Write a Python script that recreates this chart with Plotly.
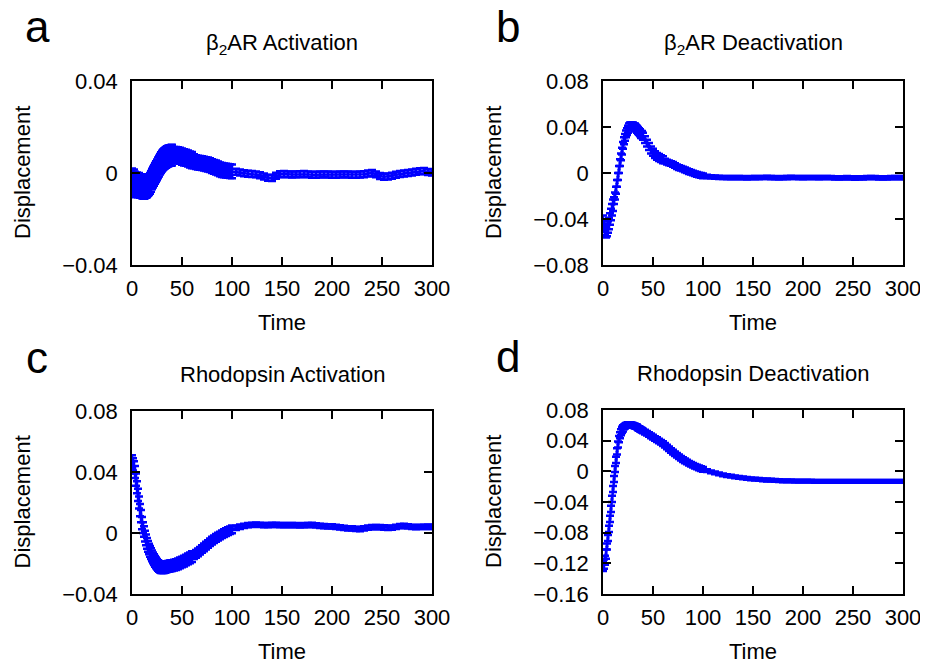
import plotly.graph_objects as go

# time grid: every step to 40, every 2 to 100, every 4 to 300
time = list(range(0, 41)) + list(range(42, 101, 2)) + list(range(104, 301, 4))

b2ar_act = [
    -0.0030, -0.0045, -0.0035, -0.0045, -0.0055, -0.0048, -0.0055, -0.0050, -0.0058, -0.0056,
    -0.0060, -0.0061, -0.0062, -0.0060, -0.0058, -0.0055, -0.0055, -0.0051, -0.0045, -0.0036,
    -0.0026, -0.0018, -0.0010, -0.0002, 0.0006, 0.0014, 0.0022, 0.0030, 0.0038, 0.0045,
    0.0052, 0.0057, 0.0061, 0.0065, 0.0068, 0.0071, 0.0073, 0.0075, 0.0076, 0.0077,
    0.0078,
    0.0078, 0.0078, 0.0077, 0.0075, 0.0071, 0.0068, 0.0066, 0.0063, 0.0059, 0.0056,
    0.0051, 0.0047, 0.0045, 0.0044, 0.0043, 0.0041, 0.0039, 0.0037, 0.0034, 0.0030,
    0.0027, 0.0024, 0.0020, 0.0016, 0.0013, 0.0011, 0.0010, 0.0009, 0.0008, 0.0007,
    0.0005, 0.0002, -0.0001, -0.0003, -0.0004, -0.0006, -0.0010, -0.0015, -0.0021, -0.0022,
    -0.0012, -0.0005, -0.0004, -0.0006, -0.0007, -0.0006, -0.0005, -0.0004, -0.0006, -0.0008,
    -0.0008, -0.0007, -0.0006, -0.0007, -0.0008, -0.0008, -0.0007, -0.0006, -0.0007, -0.0008,
    -0.0008, -0.0007, -0.0005, -0.0002, 0.0000, -0.0006, -0.0013, -0.0016, -0.0015, -0.0012,
    -0.0008, -0.0004, -0.0002, 0.0000, 0.0002, 0.0005, 0.0008, 0.0009, 0.0004, 0.0002,
]
b2ar_act_err = [0.005] * 16 + [0.0045] * 25 + [0.0035] * 10 + [0.003] * 20 + [0.0013] * 50

b2ar_deact = [
    -0.042, -0.046, -0.049, -0.051, -0.050, -0.047, -0.044, -0.040, -0.036, -0.032,
    -0.028, -0.024, -0.020, -0.015, -0.009, -0.003, 0.003, 0.009, 0.014, 0.019,
    0.024, 0.028, 0.031, 0.034, 0.036, 0.038, 0.040, 0.041, 0.041, 0.041,
    0.041, 0.040, 0.040, 0.039, 0.038, 0.037, 0.036, 0.035, 0.0335, 0.0335,
    0.032,
    0.029, 0.026, 0.023, 0.020, 0.018, 0.016, 0.0145, 0.0135, 0.0125, 0.0115,
    0.0105, 0.0095, 0.0088, 0.0082, 0.0075, 0.0065, 0.0055, 0.0047, 0.0041, 0.0035,
    0.0027, 0.0019, 0.0012, 0.0006, 0.0000, -0.0006, -0.0012, -0.0017, -0.0021, -0.0025,
    -0.0029, -0.0033, -0.0036, -0.0038, -0.0039, -0.0040, -0.0041, -0.0041, -0.0040, -0.0041,
    -0.0042, -0.0041, -0.0040, -0.0041, -0.0039, -0.0038, -0.0040, -0.0041, -0.0042, -0.0041,
    -0.0040, -0.0038, -0.0039, -0.0040, -0.0041, -0.0040, -0.0039, -0.0040, -0.0041, -0.0040,
    -0.0039, -0.0040, -0.0042, -0.0043, -0.0042, -0.0041, -0.0043, -0.0044, -0.0043, -0.0042,
    -0.0041, -0.0039, -0.0040, -0.0042, -0.0043, -0.0042, -0.0041, -0.0040, -0.0041, -0.0040,
]
b2ar_deact_err = [0.005] * 11 + [0.003] * 30 + [0.003] * 10 + [0.002] * 20 + [0.0014] * 50

rho_act = [
    0.047, 0.045, 0.043, 0.040, 0.035, 0.030, 0.025, 0.020, 0.015, 0.011,
    0.0065, 0.0035, 0.0010, -0.0020, -0.0045, -0.0068, -0.0088, -0.0105, -0.0120, -0.0135,
    -0.0150, -0.0163, -0.0175, -0.0186, -0.0196, -0.0205, -0.0213, -0.0219, -0.0224, -0.0227,
    -0.0228, -0.0228, -0.0227, -0.0225, -0.0223, -0.0221, -0.0219, -0.0218, -0.0216, -0.0215,
    -0.0214,
    -0.0211, -0.0207, -0.0202, -0.0196, -0.0190, -0.0184, -0.0177, -0.0170, -0.0163, -0.0155,
    -0.0146, -0.0137, -0.0127, -0.0116, -0.0105, -0.0094, -0.0083, -0.0072, -0.0061, -0.0050,
    -0.0041, -0.0032, -0.0024, -0.0016, -0.0008, -0.0001, 0.0006, 0.0012, 0.0018, 0.0024,
    0.0033, 0.0041, 0.0047, 0.0051, 0.0054, 0.0055, 0.0054, 0.0052, 0.0052, 0.0053,
    0.0054, 0.0052, 0.0051, 0.0052, 0.0052, 0.0051, 0.0050, 0.0051, 0.0052, 0.0053,
    0.0050, 0.0047, 0.0045, 0.0044, 0.0043, 0.0040, 0.0037, 0.0033, 0.0031, 0.0030,
    0.0027, 0.0026, 0.0030, 0.0035, 0.0038, 0.0039, 0.0038, 0.0036, 0.0034, 0.0035,
    0.0040, 0.0045, 0.0046, 0.0043, 0.0040, 0.0039, 0.0040, 0.0040, 0.0041, 0.0040,
]
rho_act_err = [0.004] * 11 + [0.0035] * 30 + [0.0035] * 10 + [0.0025] * 20 + [0.0014] * 50

rho_deact = [
    -0.124, -0.121, -0.116, -0.108, -0.098, -0.087, -0.075, -0.062, -0.049, -0.036,
    -0.023, -0.010, 0.003, 0.015, 0.026, 0.035, 0.042, 0.047, 0.051, 0.054,
    0.056, 0.058, 0.059, 0.060, 0.0605, 0.061, 0.061, 0.061, 0.0608, 0.0605,
    0.060, 0.0595, 0.059, 0.0585, 0.058, 0.0565, 0.0558, 0.055, 0.0543, 0.0535,
    0.0527,
    0.0512, 0.0496, 0.0480, 0.0463, 0.0446, 0.0429, 0.0413, 0.0396, 0.0380, 0.0362,
    0.0340, 0.0318, 0.0295, 0.0272, 0.0250, 0.0229, 0.0209, 0.0190, 0.0171, 0.0153,
    0.0137, 0.0121, 0.0106, 0.0092, 0.0079, 0.0067, 0.0056, 0.0045, 0.0035, 0.0026,
    0.0009, -0.0006, -0.0020, -0.0033, -0.0045, -0.0055, -0.0064, -0.0072, -0.0079, -0.0086,
    -0.0092, -0.0097, -0.0102, -0.0106, -0.0110, -0.0113, -0.0116, -0.0119, -0.0121, -0.0123,
    -0.0125, -0.0126, -0.0127, -0.0128, -0.0128, -0.0129, -0.0129, -0.0130, -0.0130, -0.0130,
    -0.0131, -0.0131, -0.0130, -0.0130, -0.0131, -0.0131, -0.0132, -0.0131, -0.0130, -0.0131,
    -0.0132, -0.0132, -0.0131, -0.0130, -0.0131, -0.0132, -0.0132, -0.0131, -0.0131, -0.0132,
]
rho_deact_err = [0.006] * 4 + [0.004] * 17 + [0.003] * 20 + [0.003] * 30 + [0.0018] * 50

titles = ["β<sub>2</sub>AR Activation", "β<sub>2</sub>AR Deactivation",
          "Rhodopsin Activation", "Rhodopsin Deactivation"]
letters = ["a", "b", "c", "d"]
y_ranges = [(-0.04, 0.04), (-0.08, 0.08), (-0.04, 0.08), (-0.16, 0.08)]
series = [(b2ar_act, b2ar_act_err), (b2ar_deact, b2ar_deact_err),
          (rho_act, rho_act_err), (rho_deact, rho_deact_err)]

# the page body has an 8px margin, so the figure is drawn 8px in from the corner
PAD = 8
W, H = 928 - PAD, 665 - PAD
FONT = "Liberation Sans, Arial, sans-serif"
BLUE = "#0000ff"


def px(x):
    return (x - PAD) / W


def py(y):
    return 1 - (y - PAD) / H


# plot boxes in window pixels: (left, right, top, bottom)
boxes = [(132, 432, 81, 265), (603, 903, 81, 265),
         (132, 432, 411, 594), (603, 903, 410, 594)]

fig = go.Figure()
annotations = []

for i, (vals, errs) in enumerate(series):
    n = "" if i == 0 else str(i + 1)
    left, right, top, bottom = boxes[i]
    fig.add_trace(go.Scatter(
        x=time, y=vals, mode="lines+markers",
        xaxis="x" + n, yaxis="y" + n,
        line=dict(color=BLUE, width=2.5),
        marker=dict(color=BLUE, size=3),
        error_y=dict(type="data", array=errs, visible=True,
                     color=BLUE, thickness=2.5, width=4),
        showlegend=False, cliponaxis=False,
    ))
    axis_common = dict(
        showline=True, linecolor="black", linewidth=1.5, mirror="ticks",
        ticks="inside", ticklen=8, tickwidth=1.5, tickcolor="black",
        showgrid=False, zeroline=False, automargin=False,
        tickfont=dict(family=FONT, size=22, color="black"),
    )
    fig.update_layout({
        "xaxis" + n: dict(axis_common, domain=[px(left), px(right)],
                          range=[0, 300], dtick=50, tick0=0,
                          ticklabelstandoff=3, anchor="y" + n),
        "yaxis" + n: dict(axis_common, domain=[py(bottom), py(top)],
                          range=list(y_ranges[i]), dtick=0.04, tick0=0,
                          ticklabelstandoff=8, anchor="x" + n),
    })
    cx = (left + right) / 2
    cy = (top + bottom) / 2
    # panel title
    annotations.append(dict(text=titles[i], x=px(cx), y=py(top - 37),
                            xref="paper", yref="paper", showarrow=False,
                            xanchor="center", yanchor="middle",
                            font=dict(family=FONT, size=22, color="black")))
    # x axis title
    annotations.append(dict(text="Time", x=px(cx), y=py(bottom + 57),
                            xref="paper", yref="paper", showarrow=False,
                            xanchor="center", yanchor="middle",
                            font=dict(family=FONT, size=22, color="black")))
    # y axis title
    annotations.append(dict(text="Displacement", x=px(left - 110), y=py(cy),
                            xref="paper", yref="paper", showarrow=False,
                            xanchor="center", yanchor="middle", textangle=-90,
                            font=dict(family=FONT, size=22, color="black")))
    # panel letter
    annotations.append(dict(text=letters[i], x=px(left - 95), y=py(top - 54),
                            xref="paper", yref="paper", showarrow=False,
                            xanchor="center", yanchor="middle",
                            font=dict(family=FONT, size=44, color="black")))

fig.update_layout(
    width=W, height=H,
    margin=dict(l=0, r=0, t=0, b=0),
    paper_bgcolor="white", plot_bgcolor="white",
    annotations=annotations,
)

fig.write_html("out.html")
